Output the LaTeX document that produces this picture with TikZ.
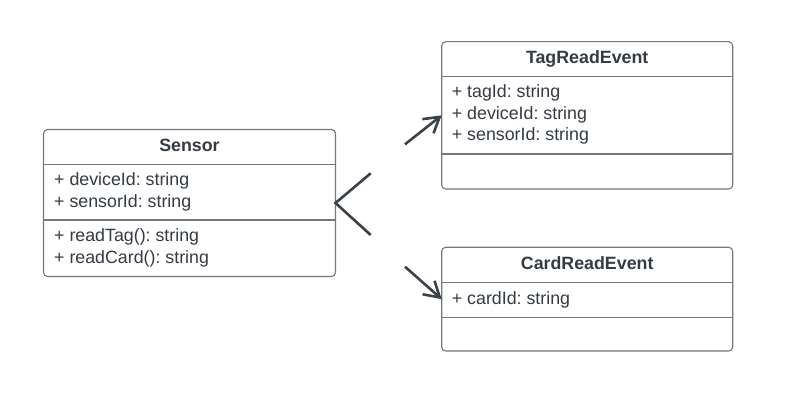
\documentclass[tikz,border=0pt]{standalone}
\usepackage{fontspec}
\setmainfont{Liberation Sans}
\usetikzlibrary{arrows.meta}
\definecolor{txt}{HTML}{343B45}
\definecolor{edge}{HTML}{3A414A}
\definecolor{frame}{HTML}{74777C}
\frenchspacing
\begin{document}
\begin{tikzpicture}[x=1pt,y=-1pt,
  classbox/.style={draw=frame,line width=1.1pt,rounded corners=4pt,fill=white,inner sep=0pt,outer sep=0pt},
  divider/.style={draw=frame,line width=1.1pt},
  title/.style={font=\fontsize{17.8}{20}\selectfont\bfseries,text=txt,anchor=base,inner sep=0pt},
  member/.style={font=\fontsize{17.8}{20}\selectfont,text=txt,anchor=base west,inner sep=0pt},
  assoc/.style={draw=edge,line width=2.6pt,-{Straight Barb[length=15pt,width=18pt,line join=miter]}},
  chevron/.style={draw=edge,line width=2.6pt,line join=miter}]
\useasboundingbox (0,0) rectangle (790,414);
% Sensor
\node[classbox,minimum width=292pt,minimum height=147pt] (sensor) at (189.5,203) {};
\draw[divider] (43.5,164.3) -- (335.5,164.3);
\draw[divider] (43.5,220) -- (335.5,220);
\node[title] (sensorT) at (189.5,152) {Sensor};
\node[member] (s1) at (54,185.5) {+ deviceId: string};
\node[member] (s2) at (54,207.2) {+ sensorId: string};
\node[member] (s3) at (54,241.5) {+ readTag(): string};
\node[member] (s4) at (54,263.2) {+ readCard(): string};
% TagReadEvent
\node[classbox,minimum width=291pt,minimum height=147.3pt] (tag) at (587.2,115.35) {};
\draw[divider] (441.7,76.7) -- (732.7,76.7);
\draw[divider] (441.7,154) -- (732.7,154);
\node[title] (tagT) at (587.2,64) {TagReadEvent};
\node[member] (t1) at (451.7,98) {+ tagId: string};
\node[member] (t2) at (451.7,119.3) {+ deviceId: string};
\node[member] (t3) at (451.7,140.6) {+ sensorId: string};
% CardReadEvent
\node[classbox,minimum width=291pt,minimum height=103.7pt] (card) at (587.2,299.15) {};
\draw[divider] (441.7,282.3) -- (732.7,282.3);
\draw[divider] (441.7,317.3) -- (732.7,317.3);
\node[title] (cardT) at (587.2,269.3) {CardReadEvent};
\node[member] (c1) at (451.7,304.6) {+ cardId: string};
% connectors
\coordinate (u1) at (370.7,173.3);
\coordinate (u2) at (370.7,235);
\draw[chevron] (u1) -- (sensor.east) -- (u2);
\coordinate (a1) at (405,144.3);
\coordinate (a2) at (405,266.7);
\draw[assoc] (a1) -- (tag.west);
\draw[assoc] (a2) -- (card.west);
\end{tikzpicture}
\end{document}
